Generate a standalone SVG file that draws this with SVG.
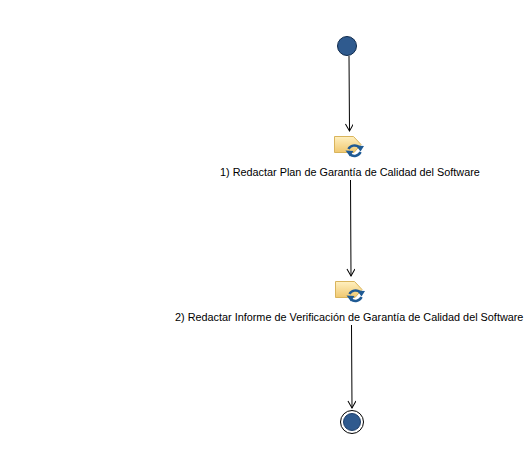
<svg xmlns="http://www.w3.org/2000/svg" width="526" height="455" viewBox="0 0 526 455">
<style>
.lbl{font-family:"Liberation Sans",Arial,sans-serif;font-size:10.85px;fill:#000}
.conn{fill:none;stroke:#000;stroke-width:1}
.sheet{fill:url(#g);stroke:#d9b45c;stroke-width:1}
.cyc{fill:none;stroke:#1f5a94;stroke-width:2.5}
.cyh{fill:#1f5a94}
</style>
<defs>
<linearGradient id="g" x1="0" y1="0" x2="0" y2="1"><stop offset="0" stop-color="#fff0c0"/><stop offset="1" stop-color="#f0c870"/></linearGradient>
<marker id="arr" markerWidth="10" markerHeight="10" refX="8" refY="4" orient="auto" markerUnits="userSpaceOnUse"><path d="M1 0L8 4L1 8" fill="none" stroke="#000"/></marker>
<g id="task">
<path class="sheet" d="M0.500 0.500H19.500L27 8.500L20 16.500H0.500Z"/>
<path class="cyc" d="M14.500 13A6.500 5.500 0 0 1 25 11"/>
<path class="cyc" d="M26.500 16A6.500 5.500 0 0 1 16 18.500"/>
<path class="cyh" d="M22 9.500L30 10L26.500 15.500ZM11.500 14.500L19.500 15L16 20.500Z"/>
</g>
</defs>
<g id="connectors">
<path class="conn" marker-end="url(#arr)" d="M349 56L349.500 131"/>
<path class="conn" marker-end="url(#arr)" d="M350.500 180L351 276"/>
<path class="conn" marker-end="url(#arr)" d="M351.500 325L352 408"/>
</g>
<g id="start"><circle cx="347" cy="46" r="9.500" fill="#2f5a8e" stroke="#0f2a4c" stroke-width="1"/></g>
<g id="task1"><use href="#task" x="334" y="136"/><text class="lbl" x="220" y="176">1) Redactar Plan de Garantía de Calidad del Software</text></g>
<g id="task2"><use href="#task" x="335" y="281"/><text class="lbl" x="175" y="321">2) Redactar Informe de Verificación de Garantía de Calidad del Software</text></g>
<g id="end"><circle cx="352" cy="422" r="11.500" fill="#fff" stroke="#000" stroke-width="1"/><circle cx="352" cy="422" r="8.500" fill="#2f5a8e" stroke="#1f3f6a" stroke-width="1"/></g>
</svg>
